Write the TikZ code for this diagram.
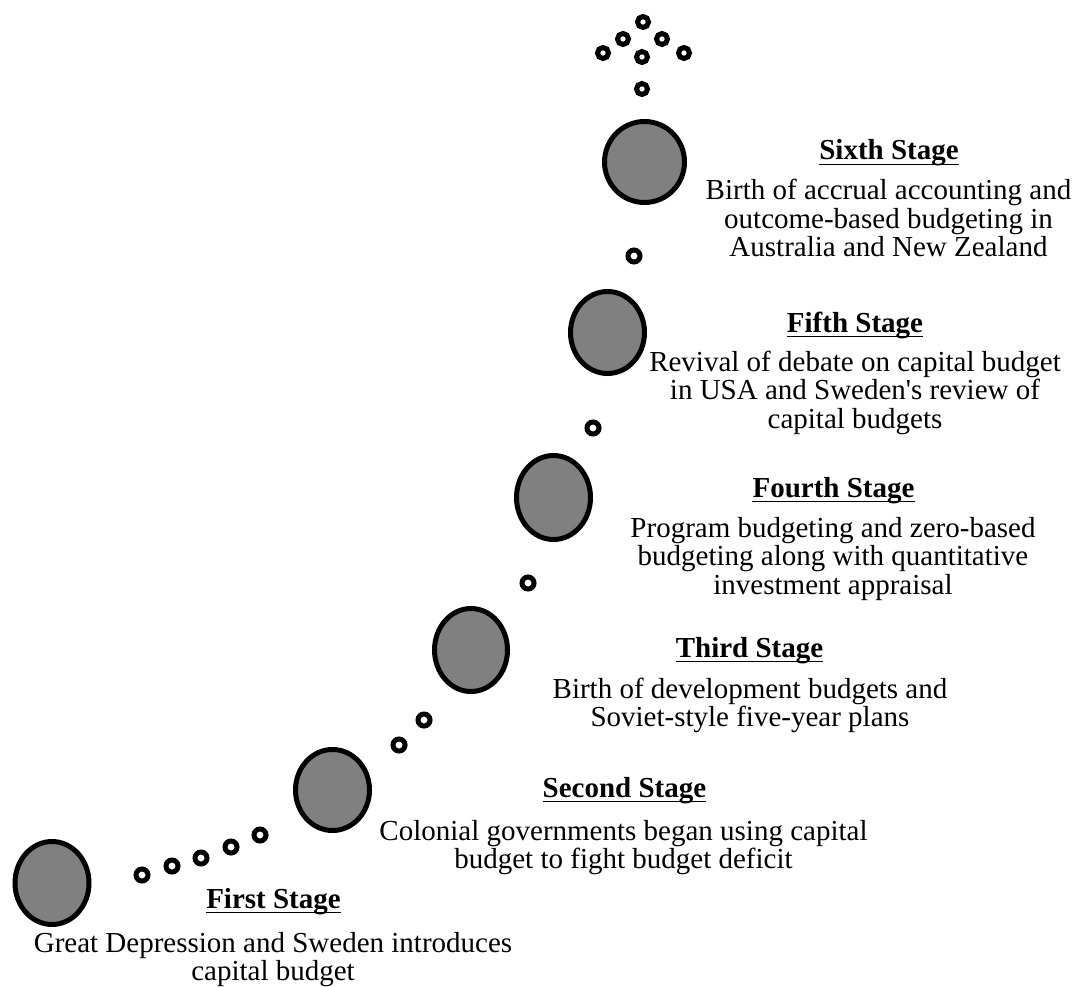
\documentclass[tikz,border=0pt]{standalone}
\usepackage{fontspec}
\setmainfont{Liberation Serif}
\usetikzlibrary{shapes.geometric}
\definecolor{stagegray}{RGB}{128,128,128}
\begin{document}
\begin{tikzpicture}[x=1pt,y=-1pt,
  bigdot/.style={ellipse, draw=black, line width=5pt, fill=stagegray, minimum width=74pt, minimum height=83pt, inner sep=0pt},
  smalldot/.style={circle, draw=black, line width=5pt, fill=white, minimum size=12pt, inner sep=0pt},
  topdot/.style={smalldot, line width=5pt, minimum size=11pt},
  heading/.style={font=\fontsize{29}{28.5}\selectfont\bfseries, inner sep=0pt, anchor=base},
  body/.style={font=\fontsize{29}{28.5}\selectfont, align=center, inner sep=0pt, anchor=base},
  uline/.style={line width=1.8pt}]
\useasboundingbox (0,0) rectangle (1077,987);

% big stage circles
\node[bigdot] (s1) at (52,883) {};
\node[bigdot, minimum width=74pt, minimum height=81pt] (s2) at (332.5,790) {};
\node[bigdot, minimum width=73pt] (s3) at (471,650) {};
\node[bigdot, minimum height=84pt] (s4) at (553.5,497.5) {};
\node[bigdot, minimum height=82pt] (s5) at (607.5,332.5) {};
\node[bigdot, minimum width=80pt, minimum height=81pt] (s6) at (644.5,162) {};

% small dots
\node[smalldot] (d1a) at (142,875) {};
\node[smalldot] (d1b) at (172,866) {};
\node[smalldot] (d1c) at (201,858) {};
\node[smalldot] (d1d) at (231,847) {};
\node[smalldot] (d1e) at (260,835) {};
\node[smalldot] (d2a) at (399,745) {};
\node[smalldot] (d2b) at (424,720) {};
\node[smalldot] (d3a) at (528,583) {};
\node[smalldot] (d4a) at (593,428) {};
\node[smalldot] (d5a) at (634,256) {};
\node[topdot] (d6a) at (642,89) {};
\node[topdot] (t1) at (603,53) {};
\node[topdot] (t2) at (642,57) {};
\node[topdot] (t3) at (684,53) {};
\node[topdot] (t4) at (623,39) {};
\node[topdot] (t5) at (662,39) {};
\node[topdot] (t6) at (643,22) {};

% headings
\node[heading] (h1) at (273.5,908) {First Stage};
\node[heading] (h2) at (624.5,797) {Second Stage};
\node[heading] (h3) at (749.5,657) {Third Stage};
\node[heading] (h4) at (833.5,497) {Fourth Stage};
\node[heading] (h5) at (855,332) {Fifth Stage};
\node[heading] (h6) at (889,160) {Sixth Stage};
\foreach \h in {h1,h2,h3,h4,h5,h6}
  \draw[uline] ([yshift=-4.5pt]\h.base west) -- ([yshift=-4.5pt]\h.base east);

% bodies (anchor = baseline of last line)
\node[body] (b1) at (273,980.5) {Great Depression and Sweden introduces\\capital budget};
\node[body] (b2) at (623.5,868.5) {Colonial governments began using capital\\budget to fight budget deficit};
\node[body] (b3) at (750,726.5) {Birth of development budgets and\\Soviet-style five-year plans};
\node[body] (b4) at (833,594) {Program budgeting and zero-based\\budgeting along with quantitative\\investment appraisal};
\node[body] (b5) at (855,428) {Revival of debate on capital budget\\in USA and Sweden\textquotesingle s review of\\capital budgets};
\node[body] (b6) at (888.5,257) {Birth of accrual accounting and\\outcome-based budgeting in\\Australia and New Zealand};
\end{tikzpicture}
\end{document}
